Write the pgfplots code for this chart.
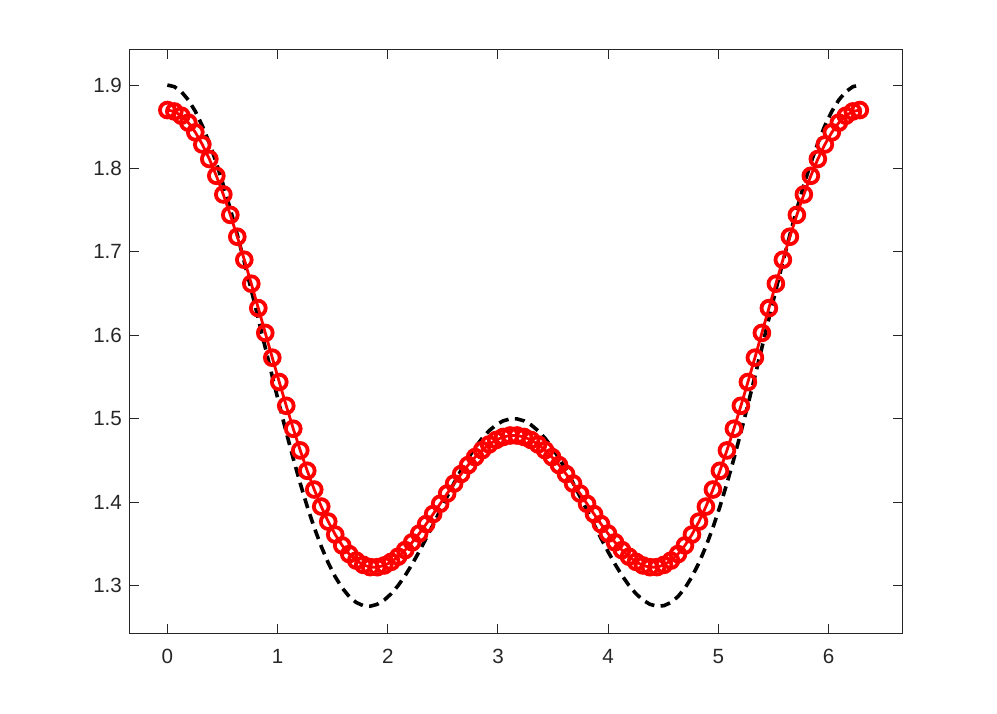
\documentclass[border=0pt]{standalone}
\usepackage{fontspec}
\setmainfont{Liberation Sans}
\usepackage{pgfplots}
\usepackage{pgfplotstable}
\pgfplotsset{compat=1.18}
\definecolor{axgray}{rgb}{0.15,0.15,0.15}

\pgfplotstableread{
x      fit     ref
0.0000 1.8700 1.9000
0.0635 1.8683 1.8980
0.1269 1.8632 1.8920
0.1904 1.8549 1.8821
0.2539 1.8433 1.8684
0.3173 1.8287 1.8511
0.3808 1.8113 1.8304
0.4443 1.7912 1.8067
0.5077 1.7688 1.7802
0.5712 1.7443 1.7513
0.6347 1.7181 1.7204
0.6981 1.6905 1.6879
0.7616 1.6618 1.6543
0.8251 1.6325 1.6199
0.8885 1.6028 1.5851
0.9520 1.5731 1.5506
1.0155 1.5439 1.5166
1.0789 1.5154 1.4837
1.1424 1.4879 1.4521
1.2059 1.4619 1.4223
1.2693 1.4375 1.3946
1.3328 1.4150 1.3694
1.3963 1.3946 1.3468
1.4597 1.3766 1.3271
1.5232 1.3610 1.3104
1.5867 1.3480 1.2969
1.6501 1.3376 1.2867
1.7136 1.3298 1.2796
1.7771 1.3247 1.2758
1.8405 1.3220 1.2751
1.9040 1.3219 1.2774
1.9675 1.3240 1.2824
2.0309 1.3283 1.2901
2.0944 1.3345 1.3000
2.1579 1.3424 1.3119
2.2213 1.3517 1.3256
2.2848 1.3622 1.3406
2.3483 1.3736 1.3565
2.4117 1.3856 1.3731
2.4752 1.3979 1.3899
2.5387 1.4102 1.4066
2.6021 1.4222 1.4229
2.6656 1.4336 1.4382
2.7291 1.4443 1.4525
2.7925 1.4539 1.4653
2.8560 1.4622 1.4764
2.9195 1.4691 1.4855
2.9829 1.4744 1.4925
3.0464 1.4780 1.4973
3.1099 1.4798 1.4997
3.1733 1.4798 1.4997
3.2368 1.4780 1.4973
3.3003 1.4744 1.4925
3.3637 1.4691 1.4855
3.4272 1.4622 1.4764
3.4907 1.4539 1.4653
3.5541 1.4443 1.4525
3.6176 1.4336 1.4382
3.6811 1.4222 1.4229
3.7445 1.4102 1.4066
3.8080 1.3979 1.3899
3.8715 1.3856 1.3731
3.9349 1.3736 1.3565
3.9984 1.3622 1.3406
4.0619 1.3517 1.3256
4.1253 1.3424 1.3119
4.1888 1.3345 1.3000
4.2523 1.3283 1.2901
4.3157 1.3240 1.2824
4.3792 1.3219 1.2774
4.4427 1.3220 1.2751
4.5061 1.3247 1.2758
4.5696 1.3298 1.2796
4.6331 1.3376 1.2867
4.6965 1.3480 1.2969
4.7600 1.3610 1.3104
4.8235 1.3766 1.3271
4.8869 1.3946 1.3468
4.9504 1.4150 1.3694
5.0139 1.4375 1.3946
5.0773 1.4619 1.4223
5.1408 1.4879 1.4521
5.2043 1.5154 1.4837
5.2677 1.5439 1.5166
5.3312 1.5731 1.5506
5.3947 1.6028 1.5851
5.4581 1.6325 1.6199
5.5216 1.6618 1.6543
5.5851 1.6905 1.6879
5.6485 1.7181 1.7204
5.7120 1.7443 1.7513
5.7755 1.7688 1.7802
5.8389 1.7912 1.8067
5.9024 1.8113 1.8304
5.9659 1.8287 1.8511
6.0293 1.8433 1.8684
6.0928 1.8549 1.8821
6.1563 1.8632 1.8920
6.2197 1.8683 1.8980
6.2832 1.8700 1.9000
}\curvedata

\begin{document}
\begin{tikzpicture}
\begin{axis}[
    scale only axis,
    width=386pt,
    height=291.5pt,
    xmin=-0.339, xmax=6.666,
    ymin=1.243, ymax=1.942,
    xtick={0,1,2,3,4,5,6},
    ytick={1.3,1.4,1.5,1.6,1.7,1.8,1.9},
    yticklabel style={/pgf/number format/fixed,/pgf/number format/precision=1,/pgf/number format/fixed zerofill},
    tick align=inside,
    major tick length=4.5pt,
    axis line style={axgray,line width=0.5pt},
    every tick/.style={axgray,line width=0.5pt},
    tick label style={font=\fontsize{10.3}{12}\selectfont,text=axgray},
    /pgf/number format/assume math mode=true,
    xticklabel shift=4.5pt,
    yticklabel shift=0.5pt,
    clip=false,
]
\addplot[black, line width=1.8pt, dash pattern=on 5pt off 3.2pt] table[x=x,y=ref] {\curvedata};
\addplot[red, line width=1.4pt, mark=o, mark size=3.7pt, mark options={line width=1.9pt, solid}] table[x=x,y=fit] {\curvedata};
\end{axis}
\path ([xshift=-65pt,yshift=-40pt]current axis.south west) rectangle ([xshift=47.5pt,yshift=25pt]current axis.north east);
\end{tikzpicture}
\end{document}
